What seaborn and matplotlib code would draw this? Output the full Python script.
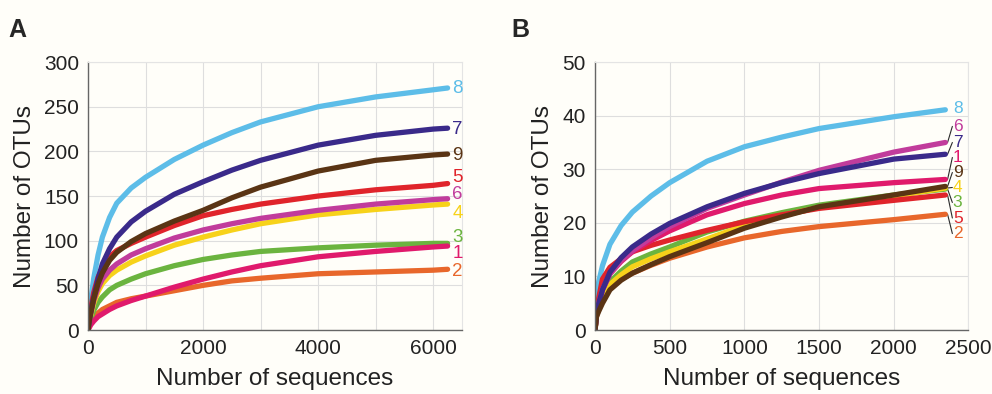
import numpy as np
import pandas as pd
import seaborn as sns
import matplotlib.pyplot as plt
from matplotlib.ticker import MultipleLocator, FuncFormatter

SAMPLES = ['1', '2', '3', '4', '5', '6', '7', '8', '9']
COLORS = {'1': '#e01a6c', '2': '#e8672b', '3': '#6bb43f', '4': '#f7d21a',
          '5': '#e0242b', '6': '#c13c9c', '7': '#3a2a8a', '8': '#5dbde8',
          '9': '#5a3414'}
DRAW_ORDER = ['8', '2', '3', '4', '5', '1', '6', '7', '9']

# panel A: rarefaction curves
A_SEQS = [0, 25, 50, 100, 175, 250, 375, 500, 750, 1000, 1500, 2000, 2500,
          3000, 4000, 5000, 6000, 6250]
A_OTUS = {
    '8': [0, 20, 34, 58, 84, 104, 126, 142, 159, 171, 191, 207, 221, 233, 250, 261, 269, 271],
    '7': [0, 12, 21, 37, 57, 74, 91, 104, 121, 133, 152, 166, 179, 190, 207, 218, 225, 226],
    '9': [0, 11, 20, 35, 52, 64, 78, 87, 99, 108, 122, 134, 148, 160, 178, 190, 196, 197],
    '5': [0, 14, 25, 42, 59, 70, 82, 89, 97, 104, 117, 128, 135, 141, 150, 157, 162, 164],
    '6': [0, 11, 19, 33, 47, 57, 67, 74, 84, 91, 103, 112, 119, 125, 134, 141, 146, 147],
    '4': [0, 10, 17, 30, 43, 52, 61, 67, 76, 83, 95, 104, 112, 119, 129, 135, 140, 141],
    '3': [0, 8, 13, 22, 31, 37, 45, 50, 57, 63, 72, 79, 84, 88, 92, 95, 97, 97],
    '1': [0, 3, 6, 10, 15, 18, 23, 27, 33, 38, 48, 57, 65, 72, 82, 88, 93, 94],
    '2': [0, 5, 9, 14, 19, 23, 27, 31, 35, 38, 44, 50, 55, 58, 63, 65, 67, 68],
}
A_LABEL_Y = {'8': 270, '7': 225, '9': 195, '5': 171, '6': 152, '4': 131,
             '3': 104, '1': 86, '2': 66}

# panel B
B_SEQS = [0, 10, 25, 50, 100, 175, 250, 375, 500, 750, 1000, 1250, 1500, 2000, 2345]
B_OTUS = {
    '8': [0, 5, 9, 12, 16, 19.5, 22, 25, 27.5, 31.5, 34.2, 36.0, 37.6, 39.8, 41.1],
    '6': [0, 3, 5, 7.5, 10.5, 13, 14.8, 17.2, 19.3, 22.7, 25.2, 27.6, 29.8, 33.2, 35.0],
    '7': [0, 3, 5, 7.5, 10.8, 13.5, 15.5, 17.9, 19.9, 23.0, 25.5, 27.5, 29.2, 31.9, 32.8],
    '1': [0, 3, 5, 7.5, 10.5, 12.8, 14.6, 16.7, 18.5, 21.5, 23.6, 25.2, 26.4, 27.5, 28.1],
    '5': [0, 4, 6, 9.5, 11.7, 13.3, 14.6, 15.8, 16.8, 18.6, 20.2, 21.5, 22.7, 24.2, 25.2],
    '3': [0, 3, 4.5, 6.5, 9, 11, 12.7, 14.2, 15.5, 18.3, 20.3, 21.9, 23.3, 25.2, 26.3],
    '4': [0, 3, 4.5, 6.3, 8.5, 10.3, 11.8, 13.3, 14.6, 17.0, 19.5, 21.3, 22.9, 25.0, 26.5],
    '9': [0, 2.5, 3.5, 5, 7.5, 9.3, 10.6, 12.2, 13.7, 16.3, 19.0, 21.1, 23.0, 25.2, 26.8],
    '2': [0, 2.5, 4, 5.5, 8, 9.5, 10.6, 12.1, 13.4, 15.5, 17.2, 18.4, 19.3, 20.6, 21.6],
}
B_LABEL_Y = {'8': 41.4, '6': 38.0, '7': 35.0, '1': 32.2, '9': 29.4, '4': 26.6,
             '3': 23.8, '5': 20.9, '2': 18.0}


def toLong(seqs, otus):
    rows = []
    for s, vals in otus.items():
        for x, y in zip(seqs, vals):
            rows.append((s, x, y))
    return pd.DataFrame(rows, columns=['sample', 'seqs', 'otus'])


def stylePanel(ax, xmax, ymax, xmaj, xmin, ymaj, ymin, xlabel_step):
    ax.set_xlim(0, xmax)
    ax.set_ylim(0, ymax)
    ax.xaxis.set_major_locator(MultipleLocator(xmaj))
    ax.xaxis.set_minor_locator(MultipleLocator(xmin))
    ax.yaxis.set_major_locator(MultipleLocator(ymaj))
    ax.yaxis.set_minor_locator(MultipleLocator(ymin))
    ax.xaxis.set_major_formatter(FuncFormatter(
        lambda v, p: '%d' % v if round(v) % xlabel_step == 0 else ''))
    ax.grid(True, which='major', color='#dedede', lw=0.8)
    ax.set_axisbelow(True)
    for side in ['left', 'bottom']:
        ax.spines[side].set_color('#666666')
        ax.spines[side].set_linewidth(1.0)
    for side in ['top', 'right']:
        ax.spines[side].set_visible(True)
        ax.spines[side].set_color('#e4e4e4')
        ax.spines[side].set_linewidth(0.8)
    ax.tick_params(which='both', direction='out', color='#777777', labelsize=15,
                   labelcolor='#222222')
    ax.tick_params(which='major', length=3)
    ax.tick_params(which='minor', length=2)
    ax.set_xlabel('Number of sequences', fontsize=17.5, color='#222222', labelpad=7)
    ax.set_ylabel('Number of OTUs', fontsize=17.5, color='#222222', labelpad=6)


sns.set_style('white')
plt.rcParams['font.family'] = ['Liberation Sans', 'DejaVu Sans']

fig = plt.figure(figsize=(9.92, 3.94), dpi=100, facecolor='#fffef9')
axA = fig.add_axes([0.0887, 0.1624, 0.377, 0.680])
axB = fig.add_axes([0.5998, 0.1624, 0.3765, 0.680])

for ax, seqs, otus in [(axA, A_SEQS, A_OTUS), (axB, B_SEQS, B_OTUS)]:
    ax.set_facecolor('#fffef9')
    df = toLong(seqs, otus)
    sns.lineplot(data=df, x='seqs', y='otus', hue='sample', hue_order=DRAW_ORDER,
                 palette=COLORS, linewidth=3.8, legend=False, sort=True,
                 solid_capstyle='round', solid_joinstyle='round', ax=ax)

stylePanel(axA, 6500, 300, 1000, 500, 50, 10, 2000)
stylePanel(axB, 2500, 50, 500, 500, 10, 5, 500)

# curve labels, panel A
for s, y in A_LABEL_Y.items():
    axA.text(6330, y, s, color=COLORS[s], fontsize=13.5, va='center', ha='left',
             clip_on=False)

# curve labels with leader lines, panel B
for s, y in B_LABEL_Y.items():
    y_end = B_OTUS[s][-1]
    if s == '8':
        axB.text(2395, y, s, color=COLORS[s], fontsize=12.5, va='center',
                 ha='left', clip_on=False)
        continue
    axB.plot([B_SEQS[-1] + 10, 2360, 2392], [y_end, y_end, y], color='#2a2a2a',
             lw=0.8, clip_on=False, zorder=1)
    axB.text(2395, y, s, color=COLORS[s], fontsize=12.5, va='center', ha='left',
             clip_on=False)

fig.text(0.008, 0.955, 'A', fontsize=18, fontweight='bold', va='top', ha='left')
fig.text(0.515, 0.955, 'B', fontsize=18, fontweight='bold', va='top', ha='left')

fig.savefig('out.png', dpi=100, facecolor=fig.get_facecolor())
